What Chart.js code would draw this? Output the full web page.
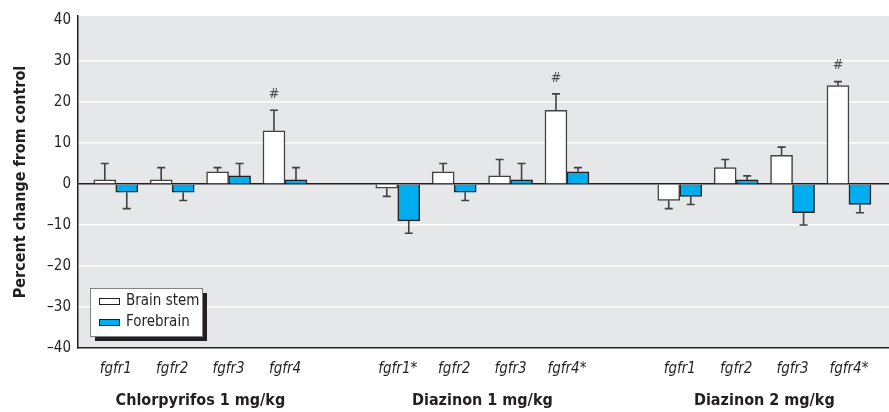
<!DOCTYPE html>
<html>
<head>
<meta charset="utf-8">
<script src="https://cdn.jsdelivr.net/npm/chart.js@4/dist/chart.umd.min.js"></script>
<style>
    html, body { margin: 0; padding: 0; background: #ffffff; }
    #chart_box { width: 889px; height: 412px; }
</style>
</head>
<body>
<div id="chart_box"><canvas id="fgfr_chart"></canvas></div>
<script>
// slot positions on the x axis, gaps at 4 and 9 separate the treatments
const slot_positions = [0, 1, 2, 3, 5, 6, 7, 8, 10, 11, 12, 13];
const gene_labels = ["fgfr1", "fgfr2", "fgfr3", "fgfr4",
                     "fgfr1*", "fgfr2", "fgfr3", "fgfr4*",
                     "fgfr1", "fgfr2", "fgfr3", "fgfr4*"];
const group_positions = [1.5, 6.5, 11.5];
const group_labels = ["Chlorpyrifos 1 mg/kg", "Diazinon 1 mg/kg", "Diazinon 2 mg/kg"];

const brain_stem_values = [1, 1, 3, 13, -1, 3, 2, 18, -4, 4, 7, 24];
const brain_stem_errors = [4, 3, 1, 5, 2, 2, 4, 4, 2, 2, 2, 1];
const forebrain_values = [-2, -2, 2, 1, -9, -2, 1, 3, -3, 1, -7, -5];
const forebrain_errors = [4, 2, 3, 3, 3, 2, 4, 1, 2, 1, 3, 2];

// "#" marks sit above these brain stem bars
const hash_marks = [3, 7, 11];

const y_ticks = [-40, -30, -20, -10, 0, 10, 20, 30, 40];

const font_family = '"Liberation Sans Narrow", "DejaVu Sans Condensed", "Arial Narrow", sans-serif';
const blue_fill = "#00aeef";

function toPoints(values) {
    return values.map((v, i) => ({ x: slot_positions[i], y: v }));
}

const background_plugin = {
    id: "background_plugin",
    beforeDraw(chart) {
        const { ctx, chartArea } = chart;
        ctx.save();
        ctx.fillStyle = "#e6e7e8";
        ctx.fillRect(chartArea.left, chartArea.top, chartArea.right - chartArea.left, chartArea.bottom - chartArea.top);
        ctx.restore();
    }
};

const error_bar_plugin = {
    id: "error_bar_plugin",
    afterDatasetsDraw(chart) {
        const { ctx } = chart;
        const y_scale = chart.scales.y;
        ctx.save();
        ctx.strokeStyle = "#414042";
        ctx.lineWidth = 1.6;
        chart.data.datasets.forEach((dataset, d) => {
            const meta = chart.getDatasetMeta(d);
            meta.data.forEach((bar, i) => {
                const value = dataset.data[i].y;
                const end_value = value + (value < 0 ? -1 : 1) * dataset.errors[i];
                const y_end = y_scale.getPixelForValue(end_value);
                ctx.beginPath();
                ctx.moveTo(bar.x, bar.y);
                ctx.lineTo(bar.x, y_end);
                ctx.moveTo(bar.x - 4, y_end);
                ctx.lineTo(bar.x + 4, y_end);
                ctx.stroke();
            });
        });
        // significance marks
        const stem_meta = chart.getDatasetMeta(0);
        ctx.fillStyle = "#4d4d4f";
        ctx.font = "italic 14px " + font_family;
        ctx.textAlign = "center";
        ctx.textBaseline = "middle";
        hash_marks.forEach(i => {
            const top_value = brain_stem_values[i] + brain_stem_errors[i];
            ctx.fillText("#", stem_meta.data[i].x, y_scale.getPixelForValue(top_value) - 16);
        });
        ctx.restore();
    }
};

const legend_plugin = {
    id: "legend_plugin",
    afterDraw(chart) {
        const { ctx } = chart;
        const box = { x: 90, y: 288, w: 112, h: 48 };
        ctx.save();
        ctx.fillStyle = "#231f20";
        ctx.fillRect(box.x + 5, box.y + 5, box.w, box.h);     // drop shadow
        ctx.fillStyle = "#ffffff";
        ctx.fillRect(box.x, box.y, box.w, box.h);
        ctx.strokeStyle = "#808285";
        ctx.lineWidth = 1;
        ctx.strokeRect(box.x + 0.5, box.y + 0.5, box.w, box.h);
        ctx.font = "15px " + font_family;
        ctx.textBaseline = "middle";
        chart.data.datasets.forEach((dataset, d) => {
            const row_y = box.y + 13 + d * 21;
            ctx.fillStyle = dataset.backgroundColor;
            ctx.fillRect(box.x + 9, row_y - 3, 21, 7);
            ctx.strokeStyle = "#231f20";
            ctx.strokeRect(box.x + 9.5, row_y - 2.5, 20, 6);
            ctx.fillStyle = "#231f20";
            ctx.fillText(dataset.label, box.x + 36, row_y);
        });
        ctx.restore();
    }
};

new Chart("fgfr_chart", {
    type: "bar",
    data: {
        datasets: [
            {
                label: "Brain stem",
                data: toPoints(brain_stem_values),
                errors: brain_stem_errors,
                backgroundColor: "#ffffff",
                borderColor: "#414042",
                borderWidth: 1.5,
                barThickness: 22,
                xAxisID: "x"
            },
            {
                label: "Forebrain",
                data: toPoints(forebrain_values),
                errors: forebrain_errors,
                backgroundColor: blue_fill,
                borderColor: "#231f20",
                borderWidth: 1.5,
                barThickness: 22,
                xAxisID: "x"
            }
        ]
    },
    options: {
        responsive: true,
        maintainAspectRatio: false,
        animation: false,
        layout: { padding: { top: 15, right: 0, left: 0, bottom: 0 } },
        plugins: {
            legend: { display: false },
            tooltip: { enabled: false }
        },
        scales: {
            x: {
                type: "linear",
                position: "bottom",
                min: -0.67,
                max: 13.71,
                offset: false,
                grid: { display: false, drawTicks: false },
                border: { display: true, color: "#231f20", width: 1.5 },
                afterBuildTicks: (scale) => { scale.ticks = slot_positions.map(v => ({ value: v })); },
                afterFit: (scale) => { scale.height = 36; },
                ticks: {
                    autoSkip: false,
                    maxRotation: 0,
                    padding: 12,
                    color: "#231f20",
                    font: { family: font_family, size: 15, style: "italic" },
                    callback: (value, index) => gene_labels[index]
                }
            },
            x2: {
                type: "linear",
                position: "bottom",
                min: -0.67,
                max: 13.71,
                offset: false,
                grid: { display: false, drawTicks: false },
                border: { display: false },
                afterBuildTicks: (scale) => { scale.ticks = group_positions.map(v => ({ value: v })); },
                afterFit: (scale) => { scale.height = 28; },
                ticks: {
                    autoSkip: false,
                    maxRotation: 0,
                    padding: 7,
                    color: "#231f20",
                    font: { family: font_family, size: 16, weight: "bold" },
                    callback: (value, index) => group_labels[index]
                }
            },
            y: {
                min: -40,
                max: 41,
                afterBuildTicks: (scale) => { scale.ticks = y_ticks.map(v => ({ value: v })); },
                afterFit: (scale) => { scale.width = 78; },
                border: { display: true, color: "#231f20", width: 1.5 },
                grid: {
                    drawTicks: false,
                    lineWidth: 1.5,
                    color: (ctx) => {
                        const v = ctx.tick && ctx.tick.value;
                        if (v === 0) return "#231f20";
                        if (v === -40 || v === 40) return "rgba(0,0,0,0)";
                        return "#ffffff";
                    }
                },
                ticks: {
                    padding: 7,
                    color: "#231f20",
                    font: { family: font_family, size: 15 },
                    callback: (v) => v < 0 ? "\u2013" + Math.abs(v) : String(v)
                },
                title: {
                    display: true,
                    text: "Percent change from control",
                    color: "#231f20",
                    padding: { top: 11, bottom: 0 },
                    font: { family: font_family, size: 16, weight: "bold" }
                }
            }
        }
    },
    plugins: [background_plugin, error_bar_plugin, legend_plugin]
});
</script>
</body>
</html>
